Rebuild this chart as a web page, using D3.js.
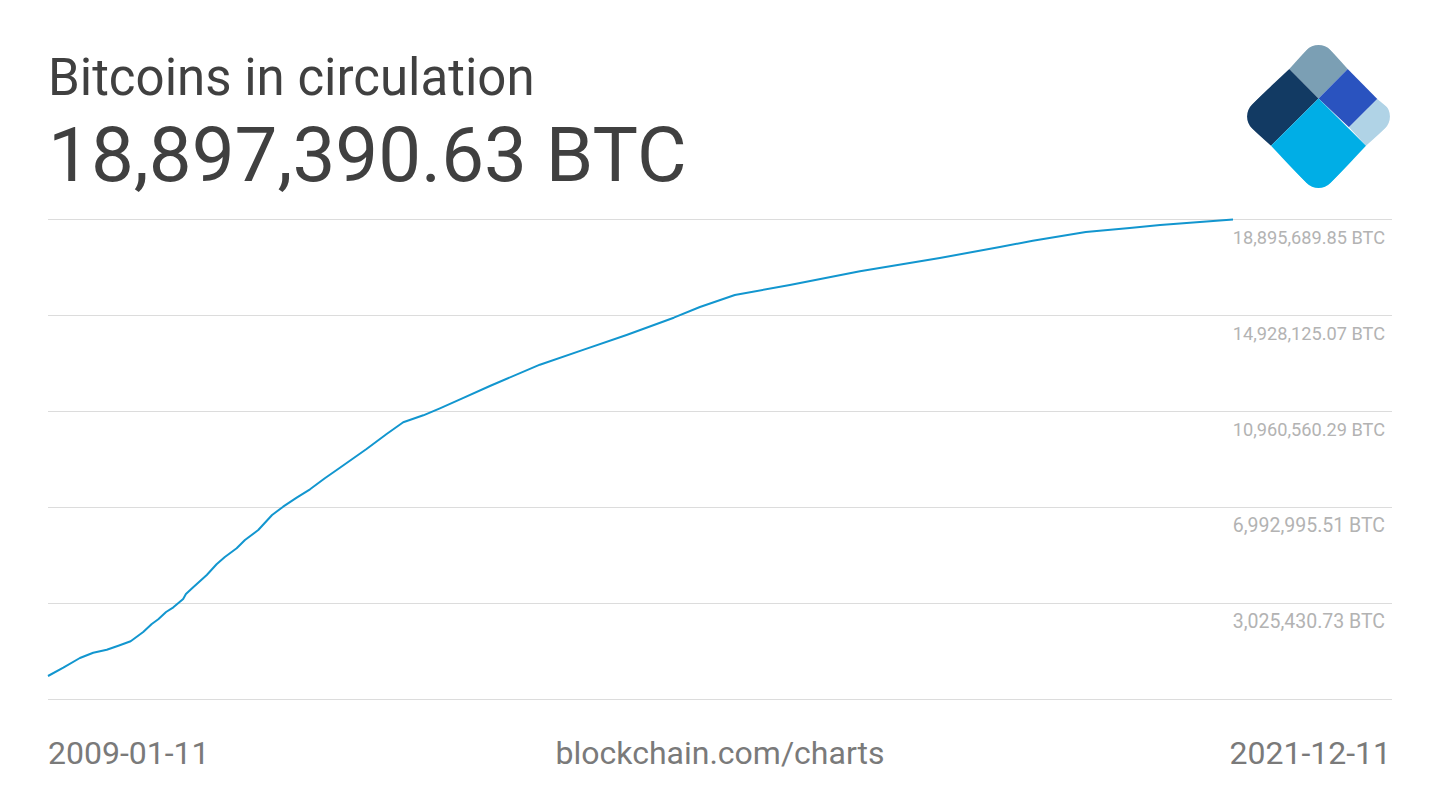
<!DOCTYPE html>
<html>
<head>
<meta charset="utf-8">
<title>Bitcoins in circulation</title>
<script src="https://cdn.jsdelivr.net/npm/d3@7"></script>
<style>
  html, body { margin: 0; padding: 0; background: #fff; }
  svg { display: block; font-family: Roboto, sans-serif; }
</style>
</head>
<body>
<svg id="chart" width="1440" height="810"></svg>
<script>
const titleText = "Bitcoins in circulation";
const latestText = "18,897,390.63 BTC";
const sourceText = "blockchain.com/charts";
const startLabel = "2009-01-11";
const endLabel = "2021-12-11";

const dates = [
  "2009-01-11", "2009-03-13", "2009-05-18", "2009-07-10", "2009-09-02", "2009-10-18", "2009-12-06",
  "2010-01-25", "2010-02-28", "2010-03-26", "2010-04-26", "2010-05-25", "2010-07-03", "2010-07-14",
  "2010-08-12", "2010-10-05", "2010-11-13", "2010-12-16", "2011-02-01", "2011-03-06", "2011-04-28",
  "2011-06-22", "2011-08-05", "2011-09-28", "2011-11-20", "2012-01-18", "2012-03-18", "2012-07-02",
  "2012-09-20", "2012-11-25", "2013-02-13", "2013-04-20", "2013-07-16", "2013-11-05", "2014-05-23",
  "2014-11-11", "2015-05-03", "2015-11-07", "2016-02-19", "2016-07-07", "2017-02-11", "2017-11-17",
  "2018-10-01", "2019-05-28", "2019-10-06", "2020-05-04", "2020-10-26", "2021-02-24", "2021-05-14", "2021-12-11"
];
const btc = [
  29077, 372108, 772999, 992043, 1116030, 1281346, 1463194,
  1847553, 2178185, 2372430, 2674133, 2868380, 3211411, 3418056,
  3694960, 4203307, 4645527, 4947229, 5306791, 5649822, 6063112,
  6683047, 7026077, 7398038, 7745202, 8199821, 8637908, 9410761,
  10030696, 10514245, 10803548, 11092851, 11489609, 12014488, 12894795,
  13506464, 14122267, 14837258, 15279479, 15775427, 16188717, 16754924,
  17304600, 17759219, 18019591, 18379154, 18544470, 18668456, 18730450, 18895690
];
// tick values, the lowest gridline has no label in the picture
const gridValues = [18895689.85, 14928125.07, 10960560.29, 6992995.51, 3025430.73, -942134.05];
const gridLabels = ["18,895,689.85 BTC", "14,928,125.07 BTC", "10,960,560.29 BTC", "6,992,995.51 BTC", "3,025,430.73 BTC", ""];

const parseDate = d3.utcParse("%Y-%m-%d");
const points = dates.map((d, i) => ({ date: parseDate(d), value: btc[i] }));

const svg = d3.select("#chart");

const x = d3.scaleUtc()
  .domain([parseDate(startLabel), parseDate(endLabel)])
  .range([48, 1233]);
const y = d3.scaleLinear()
  .domain([gridValues[5], gridValues[0]])
  .range([699.5, 219.5]);

// gridlines + labels
const axis = d3.axisLeft(y)
  .tickValues(gridValues)
  .tickSize(1344)
  .tickFormat((d, i) => gridLabels[i])
  .offset(0);

const axisG = svg.append("g")
  .attr("transform", "translate(1392,0)")
  .call(axis);
axisG.select(".domain").remove();
axisG.selectAll(".tick line").attr("stroke", "#dcdcdc").attr("stroke-width", 1);
// the shorter labels are set larger, so all of them fill the same width
axisG.selectAll(".tick text")
  .attr("x", -7)
  .attr("y", 18.5)
  .attr("dy", "0.32em")
  .attr("text-anchor", "end")
  .attr("fill", "#b3b3b3")
  .style("font-family", "Roboto, sans-serif")
  .style("font-size", function () { return this.textContent.length < 17 ? "19.5px" : "18.2px"; });

const line = d3.line()
  .x(d => x(d.date))
  .y(d => y(d.value));

svg.append("path")
  .datum(points)
  .attr("d", line)
  .attr("fill", "none")
  .attr("stroke", "#1296cf")
  .attr("stroke-width", 2)
  .attr("stroke-linejoin", "round");

// header
svg.append("text")
  .attr("x", 48).attr("y", 95)
  .attr("font-size", 51)
  .attr("fill", "#404040")
  .text(titleText);
svg.append("text")
  .attr("x", 48).attr("y", 181)
  .attr("font-size", 76.3)
  .attr("fill", "#404040")
  .text(latestText);

// footer
svg.append("text")
  .attr("x", 48).attr("y", 764)
  .attr("font-size", 32)
  .attr("fill", "#7a7a7a")
  .text(startLabel);
svg.append("text")
  .attr("x", 720).attr("y", 764)
  .attr("text-anchor", "middle")
  .attr("font-size", 32)
  .attr("fill", "#7a7a7a")
  .text(sourceText);
svg.append("text")
  .attr("x", 1391).attr("y", 764)
  .attr("text-anchor", "end")
  .attr("font-size", 32)
  .attr("fill", "#7a7a7a")
  .text(endLabel);

// logo: rounded square turned 45deg, cut into five colour pieces
const logo = svg.append("g").attr("transform", "translate(1318.5,116.5)");
svg.append("defs").append("clipPath").attr("id", "logo-clip")
  .append("rect")
  .attr("x", -55.5).attr("y", -55.5)
  .attr("width", 111).attr("height", 111)
  .attr("rx", 17)
  .attr("transform", "rotate(45)");

const logoPieces = [
  { fill: "#7b9fb4", pts: [[-29.2, -47.5], [0, -80], [29.2, -47.5], [0, -18]] },
  { fill: "#123a63", pts: [[-29.2, -47.5], [0, -18], [-47.5, 29.2], [-80, 0]] },
  { fill: "#2a53bf", pts: [[0, -18], [29.2, -47.5], [58.8, -17.5], [30.5, 10.8]] },
  { fill: "#b0d3e6", pts: [[30.5, 10.8], [58.8, -17.5], [80, 0], [47.5, 29.2]] },
  { fill: "#00aee6", pts: [[0, -18], [47.5, 29.2], [0, 80], [-47.5, 29.2]] }
];
logo.append("g").attr("clip-path", "url(#logo-clip)")
  .selectAll("polygon")
  .data(logoPieces)
  .join("polygon")
  .attr("points", d => d.pts.join(" "))
  .attr("fill", d => d.fill);
</script>
</body>
</html>
